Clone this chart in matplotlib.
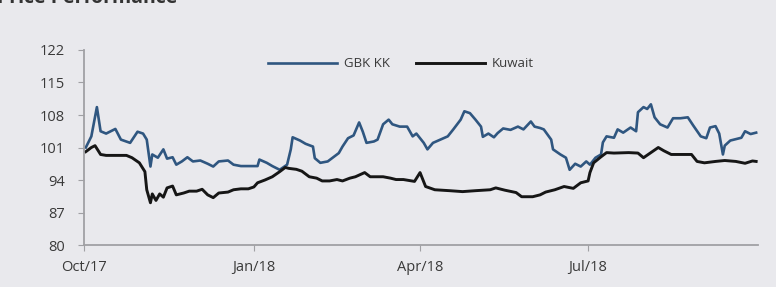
import numpy as np
import pandas as pd
import matplotlib.pyplot as plt

# GBK KK (rebased)
gbk_dates = ["2017-10-02", "2017-10-05", "2017-10-08", "2017-10-10", "2017-10-13", "2017-10-18",
             "2017-10-21", "2017-10-26", "2017-10-30", "2017-11-02", "2017-11-04", "2017-11-06",
             "2017-11-07", "2017-11-10", "2017-11-13", "2017-11-15", "2017-11-18", "2017-11-20",
             "2017-11-23", "2017-11-26", "2017-11-29", "2017-12-03", "2017-12-07", "2017-12-10",
             "2017-12-13", "2017-12-18", "2017-12-21", "2017-12-25", "2018-01-03", "2018-01-04",
             "2018-01-08", "2018-01-11", "2018-01-15", "2018-01-19", "2018-01-21", "2018-01-22",
             "2018-01-26", "2018-01-29", "2018-02-02", "2018-02-03", "2018-02-06", "2018-02-10",
             "2018-02-13", "2018-02-16", "2018-02-18", "2018-02-21", "2018-02-24", "2018-02-27",
             "2018-03-01", "2018-03-03", "2018-03-07", "2018-03-09", "2018-03-12", "2018-03-15",
             "2018-03-17", "2018-03-21", "2018-03-25", "2018-03-28", "2018-03-30", "2018-04-03",
             "2018-04-05", "2018-04-08", "2018-04-12", "2018-04-16", "2018-04-19", "2018-04-23",
             "2018-04-25", "2018-04-28", "2018-05-01", "2018-05-04", "2018-05-05", "2018-05-08",
             "2018-05-11", "2018-05-13", "2018-05-16", "2018-05-20", "2018-05-24", "2018-05-27",
             "2018-05-31", "2018-06-02", "2018-06-05", "2018-06-07", "2018-06-11", "2018-06-12",
             "2018-06-16", "2018-06-19", "2018-06-21", "2018-06-24", "2018-06-27", "2018-06-30",
             "2018-07-02", "2018-07-05", "2018-07-08", "2018-07-09", "2018-07-11", "2018-07-15",
             "2018-07-17", "2018-07-20", "2018-07-24", "2018-07-27", "2018-07-28", "2018-07-31",
             "2018-08-02", "2018-08-04", "2018-08-06", "2018-08-09", "2018-08-13", "2018-08-16",
             "2018-08-20", "2018-08-24", "2018-08-27", "2018-08-31", "2018-09-03", "2018-09-05",
             "2018-09-08", "2018-09-10", "2018-09-12", "2018-09-13", "2018-09-16", "2018-09-19",
             "2018-09-22", "2018-09-24", "2018-09-27", "2018-09-30"]
gbk_values = [101.0, 103.4, 109.7, 104.5, 104.0, 105.0,
              102.7, 102.0, 104.4, 104.0, 102.7, 96.9,
              99.5, 98.8, 100.6, 98.6, 98.9, 97.3,
              98.0, 98.9, 98.0, 98.2, 97.5, 96.9,
              98.0, 98.2, 97.3, 97.0, 97.0, 98.4,
              97.7, 97.0, 96.2, 97.3, 100.6, 103.2,
              102.5, 101.8, 101.2, 98.7, 97.7, 98.0,
              98.9, 99.8, 101.2, 103.0, 103.6, 106.4,
              104.4, 102.0, 102.3, 102.7, 106.0, 107.0,
              106.0, 105.5, 105.5, 103.4, 104.0, 102.0,
              100.6, 102.0, 102.7, 103.4, 104.9, 107.0,
              108.8, 108.4, 107.0, 105.5, 103.3, 104.0,
              103.2, 104.1, 105.1, 104.8, 105.5, 104.9,
              106.6, 105.5, 105.2, 104.9, 102.7, 100.6,
              99.5, 98.8, 96.2, 97.5, 96.9, 98.0,
              97.3, 98.8, 99.5, 102.1, 103.4, 103.1,
              104.9, 104.2, 105.3, 104.5, 108.6, 109.7,
              109.3, 110.3, 107.5, 106.0, 105.3, 107.3,
              107.3, 107.5, 105.7, 103.4, 103.0, 105.3,
              105.6, 104.0, 99.5, 101.4, 102.5, 102.8,
              103.1, 104.5, 103.9, 104.2]

# Kuwait index (rebased)
kw_dates = ["2017-10-02", "2017-10-05", "2017-10-07", "2017-10-10", "2017-10-13", "2017-10-24",
            "2017-10-27", "2017-10-31", "2017-11-03", "2017-11-04", "2017-11-06", "2017-11-07",
            "2017-11-09", "2017-11-11", "2017-11-13", "2017-11-15", "2017-11-18", "2017-11-20",
            "2017-11-24", "2017-11-27", "2017-12-01", "2017-12-04", "2017-12-07", "2017-12-10",
            "2017-12-13", "2017-12-18", "2017-12-21", "2017-12-25", "2017-12-29", "2018-01-01",
            "2018-01-03", "2018-01-07", "2018-01-11", "2018-01-15", "2018-01-18", "2018-01-20",
            "2018-01-24", "2018-01-27", "2018-01-31", "2018-02-04", "2018-02-07", "2018-02-11",
            "2018-02-15", "2018-02-18", "2018-02-22", "2018-02-25", "2018-03-02", "2018-03-05",
            "2018-03-08", "2018-03-12", "2018-03-16", "2018-03-19", "2018-03-23", "2018-03-29",
            "2018-04-01", "2018-04-04", "2018-04-09", "2018-04-17", "2018-04-24", "2018-05-01",
            "2018-05-09", "2018-05-12", "2018-05-17", "2018-05-23", "2018-05-26", "2018-06-01",
            "2018-06-05", "2018-06-08", "2018-06-13", "2018-06-18", "2018-06-23", "2018-06-27",
            "2018-07-01", "2018-07-02", "2018-07-04", "2018-07-08", "2018-07-11", "2018-07-15",
            "2018-07-23", "2018-07-28", "2018-07-31", "2018-08-04", "2018-08-08", "2018-08-11",
            "2018-08-15", "2018-08-26", "2018-08-29", "2018-09-02", "2018-09-08", "2018-09-13",
            "2018-09-19", "2018-09-24", "2018-09-28", "2018-09-30"]
kw_values = [100.1, 101.0, 101.4, 99.5, 99.3, 99.3,
             98.8, 97.7, 95.8, 91.9, 89.1, 91.0,
             89.6, 91.0, 90.3, 92.3, 92.7, 90.8,
             91.2, 91.6, 91.6, 92.0, 90.8, 90.2,
             91.2, 91.4, 91.9, 92.1, 92.1, 92.5,
             93.4, 94.0, 94.7, 95.8, 96.7, 96.5,
             96.3, 95.9, 94.7, 94.4, 93.8, 93.8,
             94.1, 93.8, 94.4, 94.7, 95.6, 94.7,
             94.7, 94.7, 94.4, 94.1, 94.1, 93.7,
             95.6, 92.6, 91.9, 91.7, 91.5, 91.7,
             91.9, 92.3, 91.8, 91.3, 90.4, 90.4,
             90.8, 91.4, 91.9, 92.6, 92.2, 93.4,
             93.8, 95.6, 97.7, 99.0, 99.9, 99.8,
             99.9, 99.8, 98.8, 99.9, 101.0, 100.3,
             99.5, 99.5, 98.0, 97.7, 98.0, 98.2,
             98.0, 97.6, 98.1, 98.0]

yticks = [80, 87, 94, 101, 108, 115, 122]
xtick_dates = ["2017-10-01", "2018-01-01", "2018-04-01", "2018-07-01"]
xtick_labels = ["Oct/17", "Jan/18", "Apr/18", "Jul/18"]

bg = "#e9e9ed"
plt.rcParams['font.family'] = ['Open Sans', 'DejaVu Sans']

fig = plt.figure(figsize=(7.76, 2.87), dpi=100, facecolor=bg)
ax = fig.add_axes([0.1082, 0.1463, 0.8686, 0.6795])
ax.set_facecolor(bg)

ax.plot(pd.to_datetime(gbk_dates), gbk_values, color="#2f5680", lw=1.9, label="GBK KK")
ax.plot(pd.to_datetime(kw_dates), kw_values, color="#161616", lw=2.1, label="Kuwait")

ax.set_ylim(80, 122)
ax.set_yticks(yticks)
ax.set_xlim(pd.Timestamp("2017-10-01"), pd.Timestamp("2018-10-01"))
ax.set_xticks(pd.to_datetime(xtick_dates))
ax.set_xticklabels(xtick_labels)

for s in ["top", "right"]:
    ax.spines[s].set_visible(False)
for s in ["left", "bottom"]:
    ax.spines[s].set_color("#a0a0a4")
    ax.spines[s].set_linewidth(1.3)
ax.tick_params(axis="both", colors="#a0a0a4", labelcolor="#3a3a3a", labelsize=10.5, length=4)
ax.tick_params(axis="y", pad=10)
ax.tick_params(axis="x", pad=7)

fig.legend(loc="center", bbox_to_anchor=(401 / 776, 1 - 64 / 287), ncol=2, frameon=False,
           fontsize=9.5, labelcolor="#3a3a3a", handlelength=5.2, columnspacing=2.0, handletextpad=0.55)

fig.text(-0.004, 1 - 3 / 287, "Price Performance", fontsize=14, fontweight="bold",
         color="#333333", ha="left", va="baseline")

fig.savefig("out.png", dpi=100, facecolor=bg)
